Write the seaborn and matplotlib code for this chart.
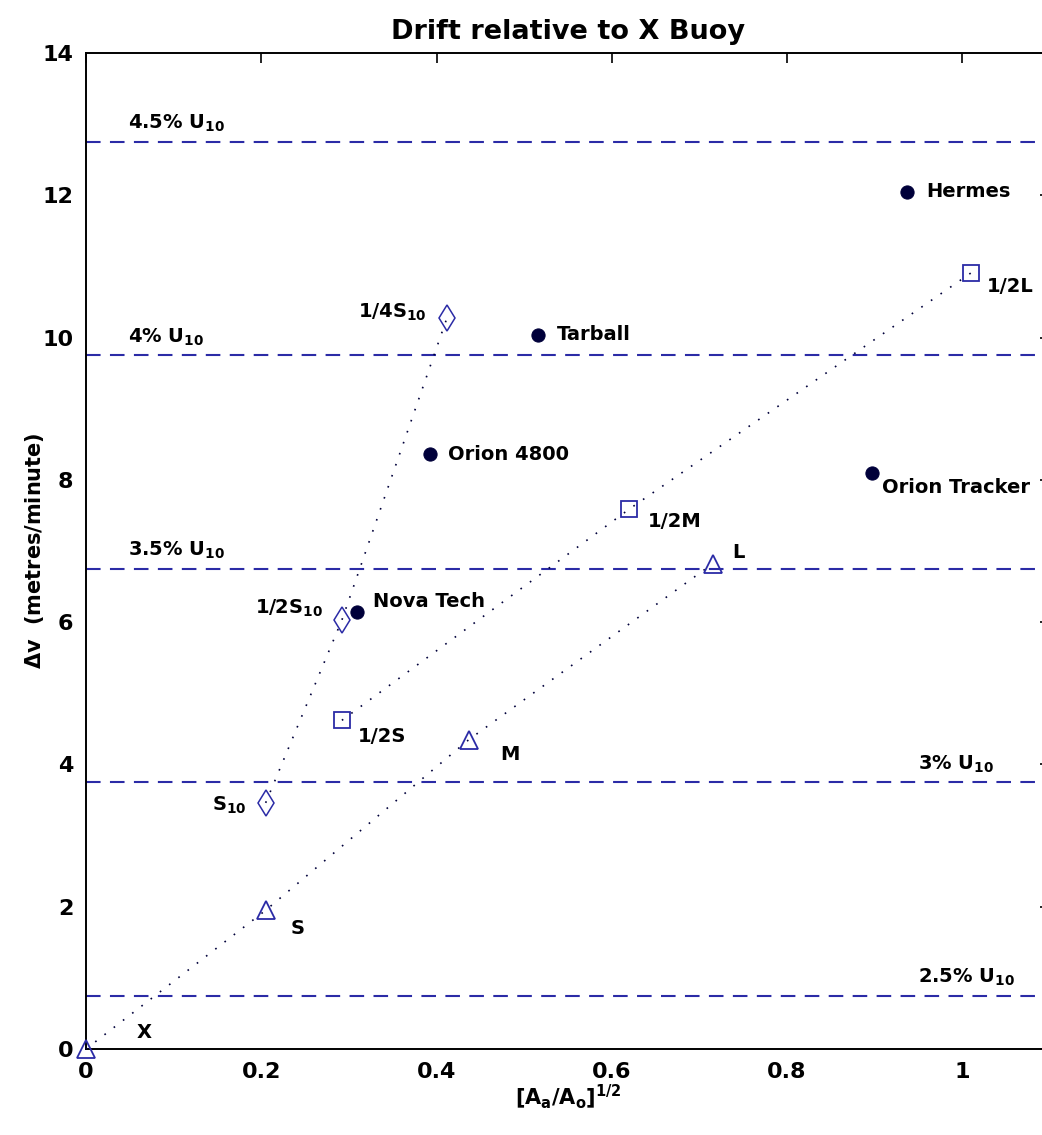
import matplotlib
matplotlib.use('Agg')
import matplotlib.pyplot as plt
import seaborn as sns

# drogue series (triangles), half-size (squares), S10 series (diamonds)
tri_names = ['X', 'S', 'M', 'L']
tri_x = [0.0, 0.205, 0.437, 0.715]
tri_y = [0.0, 1.95, 4.35, 6.82]

sq_names = ['1/2S', '1/2M', '1/2L']
sq_x = [0.292, 0.620, 1.010]
sq_y = [4.62, 7.59, 10.91]

dia_names = [r'S$_{10}$', r'1/2S$_{10}$', r'1/4S$_{10}$']
dia_x = [0.205, 0.292, 0.412]
dia_y = [3.46, 6.03, 10.28]

# commercial buoys
buoy_names = ['Hermes', 'Tarball', 'Orion 4800', 'Orion Tracker', 'Nova Tech']
buoy_x = [0.937, 0.516, 0.392, 0.897, 0.309]
buoy_y = [12.05, 10.04, 8.36, 8.10, 6.14]

# wind drift reference lines
wind_labels = ['2.5%', '3%', '3.5%', '4%', '4.5%']
wind_levels = [0.75, 3.75, 6.75, 9.75, 12.75]

# label placement (pixel offsets from the marker)
tri_off = [(51, 16), (25, -18), (31, -15), (20, 11)]
sq_off = [(16, -16), (18, -12), (16, -14)]
dia_off = [(-19, -8), (-19, 6), (-20, 0)]
buoy_off = [(19, 0), (19, 0), (18, 0), (10, -15), (16, 11)]
wind_x = [0.949, 0.949, 0.048, 0.048, 0.048]

sns.set_style('white')
plt.rcParams['font.family'] = ['DejaVu Sans']
plt.rcParams['mathtext.default'] = 'bf'
plt.rcParams['text.color'] = 'black'
plt.rcParams['axes.labelcolor'] = 'black'
plt.rcParams['xtick.color'] = 'black'
plt.rcParams['ytick.color'] = 'black'

blue = '#2b2ba6'
navy = '#00003a'
dots = (0, (1, 6))

fig = plt.figure(figsize=(10.42, 11.35), dpi=100)
ax = fig.add_axes([86 / 1042, 1 - 1049 / 1135, 964 / 1042, 996 / 1135])

for lvl, lab, lx in zip(wind_levels, wind_labels, wind_x):
    ax.axhline(lvl, color=blue, lw=1.5, ls=(0, (7, 4.5)), zorder=1)
    ax.annotate(lab + r' U$_{10}$', (lx, lvl), xytext=(0, 13), textcoords='offset pixels',
                ha='left', va='baseline', fontsize=14, fontweight='bold')

sns.lineplot(x=tri_x, y=tri_y, sort=False, ax=ax, color=navy, lw=1.2, linestyle=dots,
             marker='^', markersize=13, markerfacecolor='none', markeredgecolor=blue,
             markeredgewidth=1.3, clip_on=False, zorder=3)
sns.lineplot(x=sq_x, y=sq_y, sort=False, ax=ax, color=navy, lw=1.2, linestyle=dots,
             marker='s', markersize=11, markerfacecolor='none', markeredgecolor=blue,
             markeredgewidth=1.3, zorder=3)
sns.lineplot(x=dia_x, y=dia_y, sort=False, ax=ax, color=navy, lw=1.2, linestyle=dots,
             marker='d', markersize=13, markerfacecolor='none', markeredgecolor=blue,
             markeredgewidth=1.1, zorder=3)
sns.scatterplot(x=buoy_x, y=buoy_y, ax=ax, color=navy, edgecolor=navy, s=90, zorder=4)

for names, xs, ys, offs in [(tri_names, tri_x, tri_y, tri_off),
                            (sq_names, sq_x, sq_y, sq_off),
                            (buoy_names, buoy_x, buoy_y, buoy_off)]:
    for n, x, y, o in zip(names, xs, ys, offs):
        ax.annotate(n, (x, y), xytext=o, textcoords='offset pixels', ha='left', va='center',
                    fontsize=14, fontweight='bold')
for n, x, y, o in zip(dia_names, dia_x, dia_y, dia_off):
    ax.annotate(n, (x, y), xytext=o, textcoords='offset pixels', ha='right', va='baseline',
                fontsize=14, fontweight='bold')

ax.set_xlim(0, 1.1)
ax.set_ylim(0, 14)
ax.set_xticks([0, 0.2, 0.4, 0.6, 0.8, 1])
ax.set_xticklabels(['0', '0.2', '0.4', '0.6', '0.8', '1'])
ax.set_yticks(range(0, 15, 2))
ax.tick_params(direction='in', top=True, right=True, length=7, width=1.2,
               labelsize=16, pad=9)
for t in ax.get_xticklabels() + ax.get_yticklabels():
    t.set_fontweight('bold')
for sp in ax.spines.values():
    sp.set_color('black')
    sp.set_linewidth(1.4)

ax.set_title('Drift relative to X Buoy', fontsize=19.5, fontweight='bold', pad=10)
ax.set_xlabel(r'[A$_a$/A$_o$]$^{1/2}$', fontsize=15, fontweight='bold')
ax.set_ylabel(r'$\Delta$v  (metres/minute)', fontsize=15, fontweight='bold')
ax.xaxis.set_label_coords(0.5, -0.034)
ax.yaxis.set_label_coords(-0.042, 0.5)

fig.savefig('out.png', dpi=100)
